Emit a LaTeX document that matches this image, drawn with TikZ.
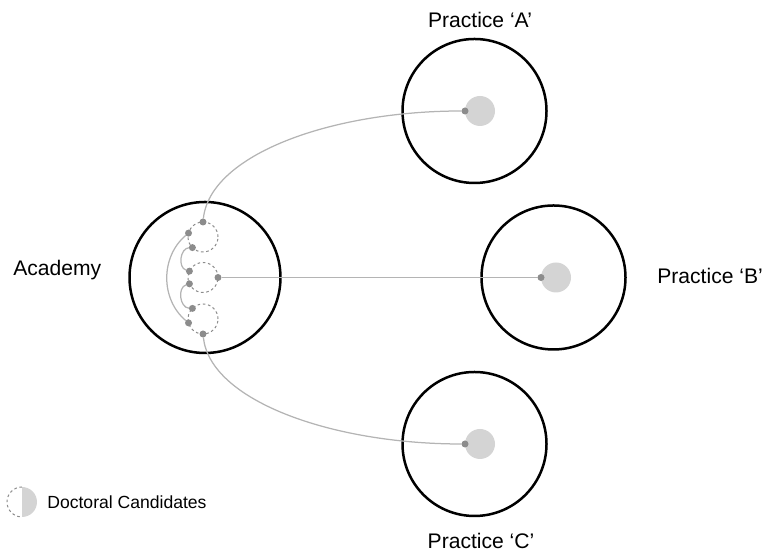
\documentclass[tikz,border=0pt]{standalone}
\usepackage{fontspec}
\setmainfont{Liberation Sans}
\definecolor{dotgray}{HTML}{8C8C8C}
\definecolor{coregray}{HTML}{D4D4D4}
\definecolor{linkgray}{HTML}{B4B4B4}
\begin{document}
\begin{tikzpicture}[
  ring/.style={draw=black, line width=0.05cm, circle, inner sep=0pt, outer sep=0pt, minimum size=2.88cm},
  cand/.style={draw=dotgray, line width=0.02cm, dash pattern=on 1.5pt off 1.5pt, circle, inner sep=0pt, outer sep=0pt, minimum size=0.6cm},
  pin/.style={fill=dotgray, circle, inner sep=0pt, outer sep=0pt, minimum size=0.14cm},
  core/.style={fill=coregray, circle, inner sep=0pt, outer sep=0pt, minimum size=0.6cm},
  link/.style={draw=linkgray, line width=0.025cm},
  lbl/.style={inner sep=0pt, font=\large}
]
\useasboundingbox (0,0) rectangle (15.3,11.04);

\node[ring, minimum size=3.02cm] (acad) at (4.1,5.49) {}; % academy
\node[ring] (pracA) at (9.49,8.82) {}; % practice A
\node[ring] (pracB) at (11.07,5.49) {}; % practice B
\node[ring] (pracC) at (9.49,2.16) {}; % practice C

\node[lbl, anchor=west] (acadlbl) at (0.26,5.63) {Academy};
\node[lbl] (Albl) at (9.6,10.64) {Practice ‘A’};
\node[lbl, anchor=west] (Blbl) at (13.14,5.52) {Practice ‘B’};
\node[lbl] (Clbl) at (9.62,0.23) {Practice ‘C’};

\node[core] (coreA) at (9.6,8.82) {}; % grey core A
\node[core] (coreB) at (11.12,5.49) {}; % grey core B
\node[core] (coreC) at (9.6,2.16) {}; % grey core C
\node[pin] (pA) at (coreA.west) {};
\node[pin] (pB) at (coreB.west) {};
\node[pin] (pC) at (coreC.west) {};

\node[cand] (candU) at (4.06,6.3) {}; % upper candidate
\node[cand] (candM) at (4.06,5.49) {}; % middle candidate
\node[cand] (candL) at (4.06,4.66) {}; % lower candidate

\node[pin] (u1) at (candU.90) {};
\node[pin] (u2) at (candU.165) {};
\node[pin] (u3) at (candU.225) {};
\node[pin] (m1) at (candM.0) {};
\node[pin] (m2) at (candM.155) {};
\node[pin] (m3) at (candM.205) {};
\node[pin] (l1) at (candL.270) {};
\node[pin] (l2) at (candL.195) {};
\node[pin] (l3) at (candL.135) {};

\draw[link] (u2) to[bend right=50] (l2); % outer arc
\draw[link] (u3) to[bend right=80] (m2); % upper small arc
\draw[link] (m3) to[bend right=80] (l3); % lower small arc

\draw[link] (u1) .. controls (4.2,7.94) and (6.6,8.82) .. (pA); % to A
\draw[link] (m1) -- (pB); % to B
\draw[link] (l1) .. controls (4.2,3.04) and (6.6,2.16) .. (pC); % to C

% key
\coordinate (key) at (0.44,1.0);
\fill[coregray] (key) ++(0,0.3) arc[start angle=90, end angle=-90, radius=0.3] -- cycle;
\draw[draw=dotgray, line width=0.02cm, dash pattern=on 1.5pt off 1.5pt] (key) ++(0,0.3) arc[start angle=90, end angle=270, radius=0.3];
\node[inner sep=0pt, anchor=west] (keylbl) at (0.94,1.0) {Doctoral Candidates};

\end{tikzpicture}
\end{document}
